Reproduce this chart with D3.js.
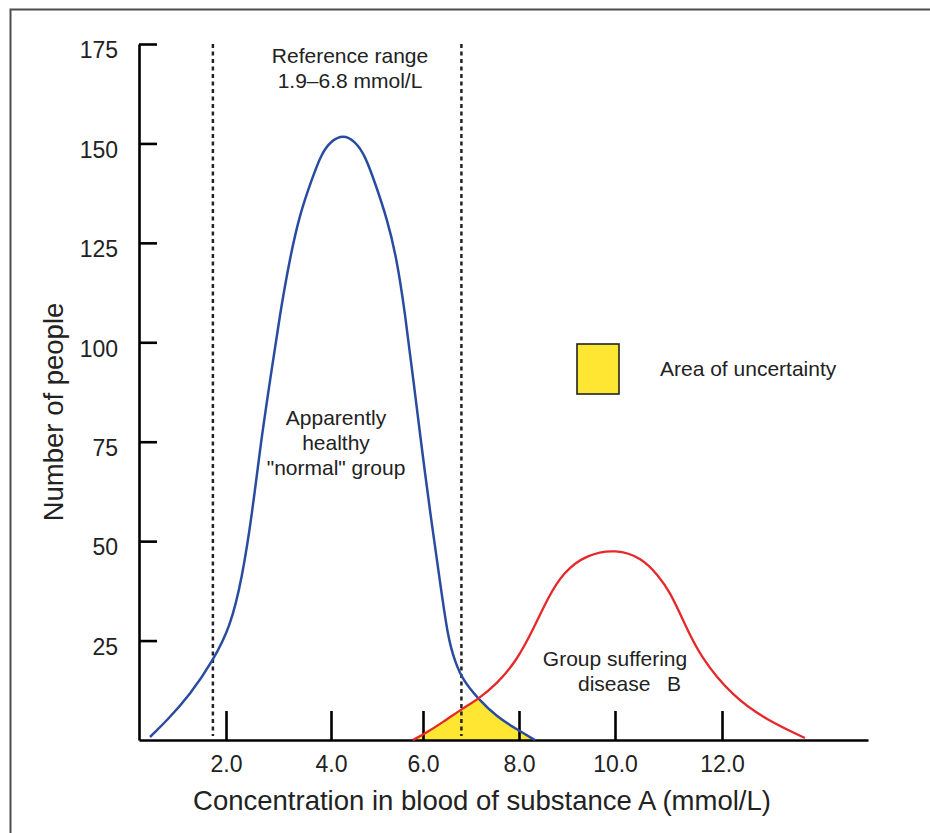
<!DOCTYPE html>
<html lang="en">
<head>
<meta charset="UTF-8">
<title>Reference range and area of uncertainty</title>
<script src="https://d3js.org/d3.v7.min.js"></script>
<style>
  body { margin: 0; background: #fff; }
  svg text { font-family: "Liberation Sans", Arial, Helvetica, sans-serif; fill: #222; }
</style>
</head>
<body>
<script>
// tick labels
const xTicks = [2, 4, 6, 8, 10, 12];
const yTicks = [25, 50, 75, 100, 125, 150, 175];

// apparently healthy "normal" group (blue)
const normalX = [0.55, 0.88, 1.31, 1.75, 2.08, 2.30, 2.50, 2.65, 2.84, 3.03, 3.22, 3.41, 3.63, 3.82, 4.00,
                 4.26, 4.52, 4.74, 4.96, 5.22, 5.43, 5.61, 5.79, 5.97, 6.15, 6.35, 6.52, 6.67, 6.83, 7.13, 7.54, 7.98, 8.33];
const normalY = [0.75, 5.0, 11.3, 19.9, 28.4, 40.2, 57.0, 73.6, 90.5, 107.3, 121.4, 132.4, 140.8, 147.5, 150.6,
                 152.2, 150.6, 147.0, 140.0, 131.0, 121.0, 107.3, 90.5, 73.7, 57.1, 40.2, 25.6, 19.6, 15.1, 10.6, 5.8, 2.5, 0];

// group suffering disease B (red)
const diseaseX = [5.78, 6.0, 6.42, 6.83, 7.13, 7.54, 7.96, 8.29, 8.60, 8.92, 9.42, 10.02,
                  10.50, 10.80, 11.03, 11.27, 11.59, 12.21, 12.84, 13.55];
const diseaseY = [0, 1.3, 4.5, 8.0, 10.1, 14.1, 20.1, 27.7, 35.7, 42.2, 46.7, 48.0,
                  45.8, 41.5, 37.2, 30.2, 20.9, 10.8, 5.0, 0.5];

// dotted reference-range lines as drawn
const refLines = [1.75, 6.8];
// ends of the drawn x axis line
const xExtent = [0.34, 14.73];

const width = 930, height = 833;

const svg = d3.select("body").append("svg")
    .attr("width", width)
    .attr("height", height);

// the hand-drawn axis has uneven tick spacing, so the scale is piecewise
const x = d3.scaleLinear()
    .domain([xExtent[0]].concat(xTicks, [xExtent[1]]))
    .range([139, 226, 331, 423, 519, 615, 722, 868]);

const y = d3.scaleLinear()
    .domain([0, 175])
    .range([740, 44]);

const normal = normalX.map((v, i) => ({x: v, y: normalY[i]}));
const disease = diseaseX.map((v, i) => ({x: v, y: diseaseY[i]}));

// a B-spline evens out the small errors of reading points off the picture
const curve = d3.curveBasis;

const line = d3.line()
    .curve(curve)
    .x(d => x(d.x))
    .y(d => y(d.y));

const area = d3.area()
    .curve(curve)
    .x(d => x(d.x))
    .y0(y(0))
    .y1(d => y(d.y));

// frame
svg.append("path")
    .attr("d", `M10.5,${height}V9.5H${width}`)
    .attr("fill", "none")
    .attr("stroke", "#4d4d4d")
    .attr("stroke-width", 2);

// area of uncertainty: under both curves
svg.append("clipPath")
    .attr("id", "underNormal")
  .append("path")
    .attr("d", area(normal));

svg.append("path")
    .attr("d", area(disease))
    .attr("clip-path", "url(#underNormal)")
    .attr("fill", "#ffe633");

// axes
const xAxis = d3.axisBottom(x)
    .tickValues(xTicks)
    .tickSize(-29)
    .tickSizeOuter(0)
    .tickPadding(16)
    .tickFormat(d3.format(".1f"));

const gx = svg.append("g")
    .attr("transform", `translate(0,${y(0)})`)
    .call(xAxis);

const yAxis = d3.axisLeft(y)
    .tickValues(yTicks)
    .tickSize(-18)
    .tickSizeOuter(0)
    .tickPadding(21);

const gy = svg.append("g")
    .attr("transform", `translate(${x(xExtent[0])},0)`)
    .call(yAxis);

[gx, gy].forEach(g => {
    g.select(".domain").attr("stroke", "#000").attr("stroke-width", 2.6);
    g.selectAll(".tick line").attr("stroke", "#000").attr("stroke-width", 2.6);
    g.selectAll(".tick text")
        .attr("font-size", 23)
        .attr("font-family", "Liberation Sans, Arial, sans-serif")
        .attr("fill", "#222");
});
gy.selectAll(".tick text").attr("dy", "0.6em");

// reference range lines
svg.selectAll(".ref")
    .data(refLines)
    .enter()
    .append("line")
    .attr("class", "ref")
    .attr("x1", d => x(d)).attr("x2", d => x(d))
    .attr("y1", y(175)).attr("y2", y(1))
    .attr("stroke", "#222")
    .attr("stroke-width", 2.5)
    .attr("stroke-dasharray", "4,3.5");

// curves
svg.append("path")
    .attr("d", line(normal))
    .attr("fill", "none")
    .attr("stroke", "#2a4ca0")
    .attr("stroke-width", 2.5);

svg.append("path")
    .attr("d", line(disease))
    .attr("fill", "none")
    .attr("stroke", "#e6282b")
    .attr("stroke-width", 2.3);

// axis titles
svg.append("text")
    .attr("x", 482).attr("y", 810)
    .attr("text-anchor", "middle")
    .attr("font-size", 27.5)
    .text("Concentration in blood of substance A (mmol/L)");

svg.append("text")
    .attr("transform", "translate(63,412) rotate(-90)")
    .attr("text-anchor", "middle")
    .attr("font-size", 27.5)
    .text("Number of people");

// annotations
function label(lines, cx, y0, step) {
    const t = svg.append("text")
        .attr("text-anchor", "middle")
        .attr("font-size", 21);
    lines.forEach((s, i) => {
        t.append("tspan").attr("x", cx).attr("y", y0 + i * step).text(s);
    });
}
label(["Reference range", "1.9\u20136.8 mmol/L"], 350, 63, 25);
label(["Apparently", "healthy", "\"normal\" group"], 336, 425, 25);
label(["Group suffering"], 615, 666, 25);

svg.append("text")
    .attr("x", 578).attr("y", 691)
    .attr("font-size", 21)
    .text("disease");
svg.append("text")
    .attr("x", 667).attr("y", 691)
    .attr("font-size", 21)
    .text("B");

// legend
svg.append("rect")
    .attr("x", 577).attr("y", 344)
    .attr("width", 42).attr("height", 50)
    .attr("fill", "#ffe633")
    .attr("stroke", "#222")
    .attr("stroke-width", 1.6);

svg.append("text")
    .attr("x", 660).attr("y", 376)
    .attr("font-size", 21)
    .text("Area of uncertainty");
</script>
</body>
</html>
